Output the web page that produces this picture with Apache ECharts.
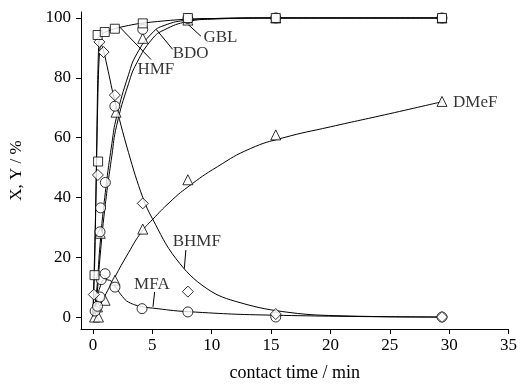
<!DOCTYPE html>
<html>
<head>
<meta charset="utf-8">
<script src="https://cdn.jsdelivr.net/npm/echarts@6/dist/echarts.min.js"></script>
<style>
  html, body { margin: 0; padding: 0; background: #fff; }
  #chart { width: 520px; height: 387px; }
</style>
</head>
<body>
<div id="chart"></div>
<script>
// measured points (contact time in min, value in %)
const hmfPtsT = [0.14, 0.44, 0.4, 1.0, 1.85, 4.2, 8.0, 15.4, 29.4];
const hmfPtsY = [14, 52, 94.3, 95.3, 96.4, 98.2, 100, 100, 100];

const gblPtsT = [0.6, 0.65, 1.05, 1.85, 4.2, 8.0, 15.4, 29.4];
const gblPtsY = [28.5, 36.5, 45, 70.5, 96.2, 99.8, 100, 100];

const bdoPtsT = [0.62, 1.95, 4.2, 8.0, 15.4, 29.4];
const bdoPtsY = [28, 68.5, 93.2, 99.3, 100, 100];

const bhmfPtsT = [0.08, 0.42, 0.55, 0.9, 1.85, 4.2, 8.0, 15.4, 29.4];
const bhmfPtsY = [7.5, 47.5, 92, 88.6, 74.2, 38, 8.5, 1, 0];

const mfaPtsT = [0.19, 0.39, 0.6, 0.7, 1.03, 1.86, 4.14, 8.0, 15.4, 29.4];
const mfaPtsY = [2, 3.6, 6.7, 12.5, 14.5, 10, 2.8, 1.7, 0, 0];

const dmefPtsT = [0.14, 0.47, 0.39, 1.03, 1.86, 4.2, 8.0, 15.4, 29.4];
const dmefPtsY = [0, 0, 3.4, 5.6, 12.3, 29.4, 45.9, 60.9, 72.1];

// fitted curves
const hmfCurveT = [0, 0.15, 0.3, 0.4, 0.5, 0.6, 0.8, 1.0, 2.0, 4.0, 8.0, 15.0, 29.4];
const hmfCurveY = [0, 18, 50, 78, 91.5, 93.8, 94.7, 95.2, 96.6, 98.2, 99.6, 100, 100];

const gblCurveT = [0, 0.3, 0.6, 1.0, 1.6, 2.0, 3.0, 3.7, 5.0, 6.0, 8.0, 10, 15, 29.4];
const gblCurveY = [0, 8, 24, 40, 58, 67, 81, 88, 95, 97.5, 99.3, 99.8, 100, 100];

const bdoCurveT = [0, 0.3, 0.6, 1.0, 1.6, 2.0, 3.0, 3.7, 5.0, 6.0, 8.0, 10, 15, 29.4];
const bdoCurveY = [0, 6, 20, 36, 54, 64, 78, 85, 93, 96, 98.8, 99.6, 100, 100];

const bhmfCurveT = [0, 0.2, 0.4, 0.55, 0.7, 0.9, 1.3, 1.8, 3.0, 4.2, 5.0, 7.0, 9.6, 12.4, 16.6, 21, 29.4];
const bhmfCurveY = [0, 30, 70, 88, 91, 89, 82, 73, 55, 40, 33, 19.5, 9.5, 4.8, 1.5, 0.4, 0];

const mfaCurveT = [0, 0.3, 0.6, 1.0, 1.4, 2.0, 2.5, 3.0, 4.1, 5.0, 8.0, 15.4, 29.4];
const mfaCurveY = [0, 5, 10, 12.5, 12.3, 9.5, 6.8, 5.0, 3.5, 3.0, 1.8, 0.6, 0];

const dmefCurveT = [0, 0.5, 1.0, 1.8, 3.0, 4.1, 5.0, 6.5, 8.0, 10.5, 13.25, 16, 20, 25, 29.4];
const dmefCurveY = [0, 3, 7, 13, 21.5, 28.5, 32.5, 38.5, 43.5, 50.3, 56.3, 59.9, 63.6, 68, 72];

// curve labels and their leader lines
const labelNames = ['HMF', 'BDO', 'GBL', 'DMeF', 'BHMF', 'MFA'];
const labelT = [3.75, 6.72, 9.31, 30.33, 6.72, 3.47];
const labelY = [82.8, 88.1, 93.5, 71.6, 25.4, 11];

const leaderFrom = [[2.3, 96.8], [5.33, 96.2], [8.0, 97.9], [7.83, 22.4], [5.2, 8.4]];
const leaderTo = [[4.9, 86.1], [6.72, 89.5], [9.1, 93.9], [7.7, 16.2], [5.06, 3.4]];

const xTicks = [0, 5, 10, 15, 20, 25, 30, 35];
const yTicks = [0, 20, 40, 60, 80, 100];

const font = 'Liberation Serif';
const zip = (t, y) => t.map((v, i) => [v, y[i]]);

const curve = (t, y, smooth) => ({
  type: 'line',
  data: zip(t, y),
  showSymbol: false,
  smooth: smooth,
  lineStyle: { color: '#000', width: 1 },
  z: 2
});

const points = (t, y, symbol, size) => ({
  type: 'scatter',
  data: zip(t, y),
  symbol: symbol,
  symbolSize: size,
  itemStyle: { color: '#fff', borderColor: '#000', borderWidth: 1 },
  z: 5
});

const chart = echarts.init(document.getElementById('chart'));
chart.setOption({
  animation: false,
  backgroundColor: '#fff',
  grid: { left: 79, right: 9, top: 12, bottom: 58 },
  xAxis: {
    type: 'value',
    min: -1,
    max: 35,
    name: 'contact time / min',
    nameLocation: 'middle',
    nameGap: 35,
    nameTextStyle: { fontFamily: font, fontSize: 18, color: '#000' },
    axisLine: { onZero: false, lineStyle: { color: '#000', width: 1 } },
    axisTick: { customValues: xTicks, length: 5, lineStyle: { color: '#000' } },
    axisLabel: { customValues: xTicks, fontFamily: font, fontSize: 17, color: '#000', margin: 8 },
    splitLine: { show: false }
  },
  yAxis: {
    type: 'value',
    min: -4,
    max: 102,
    name: 'X, Y / %',
    nameLocation: 'middle',
    nameGap: 56,
    nameTextStyle: { fontFamily: font, fontSize: 17, color: '#000' },
    axisLine: { show: true, onZero: false, lineStyle: { color: '#000', width: 1 } },
    axisTick: { show: true, customValues: yTicks, length: 5, lineStyle: { color: '#000' } },
    axisLabel: { customValues: yTicks, fontFamily: font, fontSize: 17, color: '#000', margin: 10 },
    splitLine: { show: false }
  },
  series: [
    curve(hmfCurveT, hmfCurveY, 0.25),
    curve(gblCurveT, gblCurveY, 0.5),
    curve(bdoCurveT, bdoCurveY, 0.5),
    curve(bhmfCurveT, bhmfCurveY, 0.4),
    curve(mfaCurveT, mfaCurveY, 0.5),
    curve(dmefCurveT, dmefCurveY, 0.5),
    {
      type: 'lines',
      coordinateSystem: 'cartesian2d',
      data: leaderFrom.map((p, i) => ({ coords: [p, leaderTo[i]] })),
      lineStyle: { color: '#000', width: 1, opacity: 1 },
      z: 3
    },
    points(dmefPtsT, dmefPtsY, 'triangle', 10),
    points(mfaPtsT, mfaPtsY, 'circle', 10),
    points(bdoPtsT, bdoPtsY, 'triangle', 10),
    points(gblPtsT, gblPtsY, 'circle', 10),
    points(bhmfPtsT, bhmfPtsY, 'diamond', 11),
    points(hmfPtsT, hmfPtsY, 'rect', 9),
    {
      type: 'scatter',
      symbolSize: 0,
      data: labelNames.map((n, i) => ({ name: n, value: [labelT[i], labelY[i]] })),
      label: {
        show: true,
        position: 'right',
        distance: 0,
        formatter: '{b}',
        fontFamily: font,
        fontSize: 17,
        color: '#000'
      },
      z: 6
    }
  ]
});
</script>
</body>
</html>
